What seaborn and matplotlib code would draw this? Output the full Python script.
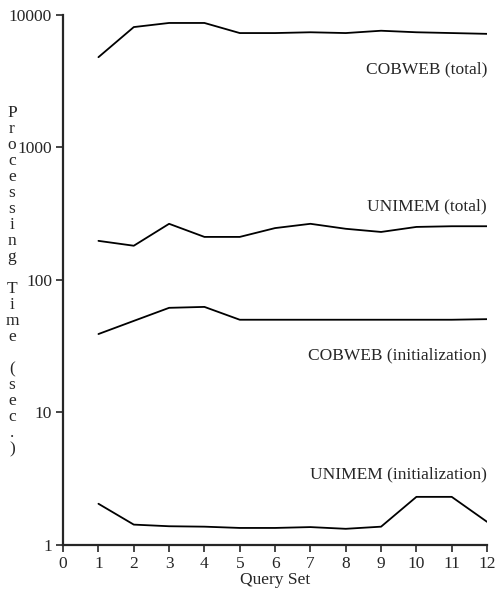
import numpy as np
import pandas as pd
import matplotlib
matplotlib.use("Agg")
import matplotlib.pyplot as plt
import seaborn as sns
from matplotlib.ticker import FixedLocator, NullLocator

query_set = [1, 2, 3, 4, 5, 6, 7, 8, 9, 10, 11, 12]
cobweb_total = [4800, 8100, 8700, 8700, 7300, 7300, 7400, 7300, 7600, 7400, 7300, 7200]
unimem_total = [197, 181, 265, 211, 211, 246, 265, 243, 230, 251, 254, 254]
cobweb_init = [39, 49, 61.5, 62.5, 50, 50, 50, 50, 50, 50, 50, 50.5]
unimem_init = [2.04, 1.42, 1.38, 1.37, 1.34, 1.34, 1.36, 1.32, 1.37, 2.3, 2.3, 1.49]

series_labels = ["COBWEB (total)", "UNIMEM (total)",
                 "COBWEB (initialization)", "UNIMEM (initialization)"]
label_y = [3850, 360, 27, 3.4]

sns.set_style("ticks")
plt.rcParams['font.family'] = ['Liberation Serif', 'DejaVu Serif']
fs = 12.5

fig = plt.figure(figsize=(4.97, 5.98), dpi=100)
ax = fig.add_axes([0.127, 0.089, 0.853, 0.886])

for vals in [cobweb_total, unimem_total, cobweb_init, unimem_init]:
    df = pd.DataFrame({"Query Set": query_set, "Time": vals})
    sns.lineplot(data=df, x="Query Set", y="Time", color="black", linewidth=1.3, ax=ax)

for lab, yy in zip(series_labels, label_y):
    ax.text(12, yy, lab, ha="right", va="center", fontsize=fs)

ax.set_yscale("log")
ax.set_ylim(1, 10000)
ax.set_xlim(0, 12)
ax.yaxis.set_major_locator(FixedLocator([1, 10, 100, 1000, 10000]))
ax.yaxis.set_minor_locator(NullLocator())
ax.set_yticklabels(["1", "10", "100", "1000", "10000"])
ax.set_xticks(range(0, 13))
ax.tick_params(axis="both", labelsize=fs, width=1.2, length=5, direction="out", pad=3)
ax.set_xlabel("Query Set", fontsize=fs, labelpad=0)
ax.set_ylabel("")
sns.despine(ax=ax)
for s in ["left", "bottom"]:
    ax.spines[s].set_linewidth(1.6)

# stacked vertical y label, one letter per line
words = ["Processing", "Time", "(sec.)"]
letters = "\n\n".join("\n".join(w) for w in words)
fig.text(0.024, 0.53, letters, ha="center", va="center", fontsize=fs, linespacing=1.0)

fig.savefig("out.png", dpi=100)
